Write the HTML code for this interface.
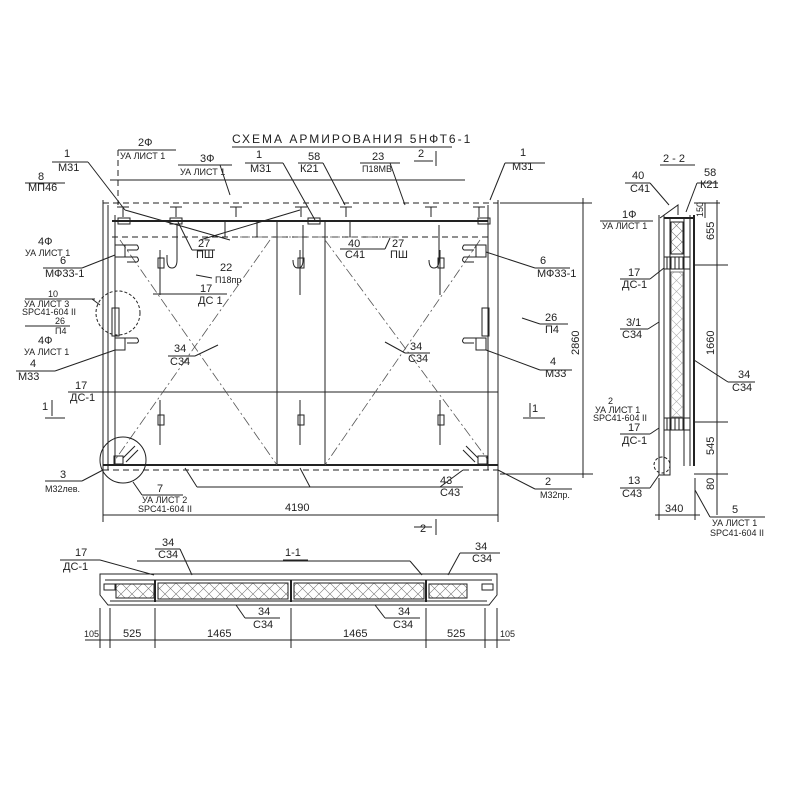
<!DOCTYPE html>
<html><head><meta charset="utf-8"><style>
html,body{margin:0;padding:0;background:#fff}
svg{display:block}
text{font-family:"Liberation Sans Narrow","Liberation Sans",sans-serif;font-size:11px;fill:#222}
.s{font-size:9px}
line,path,rect,polyline,circle{stroke:#222;fill:none;stroke-width:1}
.t{stroke-width:2}
.d{stroke-dasharray:10 3 2 3;stroke-width:0.8;stroke:#555}
.h{stroke-dasharray:6 4}
</style></head><body>
<svg width="800" height="800" viewBox="0 0 800 800" xmlns="http://www.w3.org/2000/svg">
<defs>
<pattern id="hx" width="11" height="11" patternUnits="userSpaceOnUse">
<path d="M0 11L11 0M0 0L11 11" style="stroke:#777;stroke-width:0.6"/>
</pattern>
</defs>

<text x="232" y="143" style="font-size:12px;letter-spacing:2px">СХЕМА АРМИРОВАНИЯ 5НФТ6-1</text>
<line x1="232" y1="147" x2="452" y2="147"/>

<line x1="103" y1="200" x2="103" y2="522"/>
<line x1="108" y1="205" x2="108" y2="470"/>
<line x1="115" y1="215" x2="115" y2="465"/>
<line x1="103" y1="203" x2="498" y2="203" class="h"/>
<line x1="112" y1="221" x2="488" y2="221" class="t"/>
<line x1="112" y1="237" x2="488" y2="237" class="h"/>
<line x1="498" y1="200" x2="498" y2="522"/>
<line x1="488" y1="205" x2="488" y2="470"/>
<line x1="103" y1="392" x2="498" y2="392"/>
<line x1="68" y1="392" x2="103" y2="392"/>
<line x1="103" y1="465" x2="498" y2="465" class="t"/>
<line x1="103" y1="470" x2="498" y2="470" class="h"/>
<line x1="197" y1="487" x2="440" y2="487"/>
<line x1="185" y1="468" x2="197" y2="487"/><line x1="300" y1="468" x2="310" y2="487"/>
<line x1="277" y1="221" x2="277" y2="465"/>
<line x1="325" y1="221" x2="325" y2="465"/>
<line x1="225" y1="237" x2="225" y2="221"/><line x1="257" y1="237" x2="257" y2="221"/><line x1="350" y1="237" x2="350" y2="221"/>
<line x1="120" y1="240" x2="277" y2="465" class="d"/>
<line x1="270" y1="240" x2="115" y2="460" class="d"/>
<line x1="325" y1="240" x2="488" y2="460" class="d"/>
<line x1="480" y1="240" x2="325" y2="465" class="d"/>
<line x1="240" y1="237" x2="400" y2="237" class="d"/>
<line x1="125" y1="210" x2="230" y2="240"/><line x1="200" y1="240" x2="300" y2="210"/>
<line x1="110" y1="180" x2="465" y2="180"/>
<g>
<path d="M117 207h12M123 207v10M170 207h12M176 207v10M230 207h12M236 207v10M295 207h12M301 207v10M340 207h12M346 207v10M425 207h12M431 207v10M473 207h12M479 207v10"/>
<rect x="118" y="218" width="12" height="6"/><rect x="170" y="218" width="12" height="6"/><rect x="308" y="218" width="12" height="6"/><rect x="478" y="218" width="12" height="6"/>
</g>
<path d="M177 225v35q0 8-5 8q-5 0-5-8v-5"/>
<path d="M303 225v35q0 8-5 8q-5 0-5-8"/>
<path d="M439 225v35q0 8-5 8q-5 0-5-8"/>
<rect x="115" y="245" width="10" height="12"/><path d="M125 245h12q3 3 0 5h-10M125 257h12q3 3 0 5h-10"/>
<rect x="476" y="245" width="10" height="12"/><path d="M476 245h-12q-3 3 0 5h10M476 257h-12q-3 3 0 5h10"/>
<rect x="115" y="338" width="10" height="12"/><path d="M125 338h12q3 3 0 5h-10"/>
<rect x="476" y="338" width="10" height="12"/><path d="M476 338h-12q-3 3 0 5h10"/>
<rect x="112" y="308" width="7" height="28"/><rect x="482" y="308" width="7" height="28"/>
<path d="M160 250v45M158 258h6v10h-6zM300 250v45M298 258h6v10h-6zM440 250v45M438 258h6v10h-6z"/>
<path d="M160 400v45M158 415h6v10h-6zM300 400v45M298 415h6v10h-6zM440 400v45M438 415h6v10h-6z"/>
<rect x="114" y="456" width="9" height="8"/><path d="M123 458l12-12M126 462l12-12"/>
<rect x="478" y="456" width="9" height="8"/><path d="M478 458l-12-12M475 462l-12-12"/>
<circle cx="118" cy="313" r="22" style="stroke-dasharray:3 2"/>
<circle cx="123" cy="460" r="23"/>

<text x="138" y="146">2Ф</text><line x1="118" y1="150" x2="176" y2="150"/><text x="120" y="159" class="s">УА ЛИСТ 1</text>
<line x1="118" y1="150" x2="118" y2="205" class="h"/>
<text x="64" y="157">1</text><text x="58" y="171">М31</text><line x1="52" y1="162" x2="88" y2="162"/><line x1="88" y1="162" x2="125" y2="210"/>
<text x="38" y="180">8</text><text x="28" y="191">МП46</text><line x1="25" y1="183" x2="65" y2="183"/>
<text x="200" y="162">3Ф</text><line x1="178" y1="165" x2="232" y2="165"/><text x="180" y="175" class="s">УА ЛИСТ 1</text><line x1="220" y1="165" x2="230" y2="195"/>
<text x="256" y="158">1</text><text x="250" y="172">М31</text><line x1="245" y1="163" x2="283" y2="163"/><line x1="283" y1="163" x2="315" y2="220"/>
<text x="308" y="160">58</text><text x="300" y="172">К21</text><line x1="298" y1="163" x2="323" y2="163"/><line x1="323" y1="163" x2="345" y2="205"/>
<text x="372" y="160">23</text><text x="362" y="172" class="s">П18МВ</text><line x1="360" y1="163" x2="400" y2="163"/><line x1="390" y1="163" x2="405" y2="205"/>
<text x="418" y="157">2</text><line x1="414" y1="161" x2="433" y2="161"/><line x1="436" y1="151" x2="436" y2="166"/>
<text x="520" y="156">1</text><text x="512" y="170">М31</text><line x1="505" y1="163" x2="545" y2="163"/><line x1="505" y1="163" x2="490" y2="200"/>

<text x="198" y="247">27</text><text x="196" y="258">ПШ</text><line x1="192" y1="250" x2="215" y2="250"/><line x1="192" y1="250" x2="178" y2="222"/>
<text x="220" y="271">22</text><text x="215" y="283" class="s">П18пр</text><line x1="196" y1="275" x2="212" y2="278"/>
<text x="200" y="292">17</text><text x="198" y="304">ДС 1</text><line x1="153" y1="294" x2="227" y2="294"/>
<text x="348" y="247">40</text><text x="345" y="258">С41</text><line x1="340" y1="249" x2="385" y2="249"/><line x1="385" y1="249" x2="390" y2="238"/>
<text x="392" y="247">27</text><text x="390" y="258">ПШ</text>

<text x="38" y="245">4Ф</text><text x="25" y="256" class="s">УА ЛИСТ 1</text>
<text x="60" y="264">6</text><text x="45" y="277">МФ33-1</text><line x1="43" y1="268" x2="82" y2="268"/><line x1="82" y1="268" x2="115" y2="255"/>
<text x="540" y="264">6</text><text x="537" y="277">МФ33-1</text><line x1="535" y1="268" x2="570" y2="268"/><line x1="535" y1="268" x2="486" y2="252"/>
<text x="48" y="297" class="s">10</text><line x1="25" y1="299" x2="95" y2="299"/><line x1="92" y1="299" x2="100" y2="305"/>
<text x="24" y="307" class="s">УА ЛИСТ 3</text><text x="22" y="315" class="s">SPC41-604 II</text>
<text x="55" y="324" class="s">26</text><line x1="25" y1="326" x2="70" y2="326"/><text x="55" y="334" class="s">П4</text>
<text x="38" y="344">4Ф</text><text x="24" y="355" class="s">УА ЛИСТ 1</text>
<text x="30" y="367">4</text><text x="18" y="380">М33</text><line x1="16" y1="371" x2="55" y2="371"/><line x1="55" y1="371" x2="115" y2="350"/>
<text x="75" y="389">17</text><text x="70" y="401">ДС-1</text>
<text x="42" y="410">1</text><line x1="52" y1="400" x2="52" y2="416"/><line x1="45" y1="418" x2="65" y2="418"/>
<text x="174" y="352">34</text><text x="170" y="365">С34</text><line x1="168" y1="356" x2="195" y2="356"/><line x1="195" y1="356" x2="218" y2="345"/>
<text x="410" y="350">34</text><text x="408" y="362">С34</text><line x1="405" y1="353" x2="430" y2="353"/><line x1="405" y1="353" x2="385" y2="342"/>
<text x="545" y="321">26</text><text x="545" y="333">П4</text><line x1="540" y1="324" x2="568" y2="324"/><line x1="540" y1="324" x2="522" y2="318"/>
<text x="550" y="365">4</text><text x="545" y="377">М33</text><line x1="540" y1="370" x2="572" y2="370"/><line x1="540" y1="370" x2="486" y2="350"/>
<text x="532" y="412">1</text><line x1="530" y1="403" x2="530" y2="417"/><line x1="523" y1="418" x2="545" y2="418"/>
<text x="60" y="478">3</text><text x="45" y="492" class="s">М32лев.</text><line x1="45" y1="481" x2="82" y2="481"/><line x1="82" y1="481" x2="103" y2="470"/>
<text x="157" y="492">7</text><text x="142" y="503" class="s">УА ЛИСТ 2</text><text x="138" y="512" class="s">SPC41-604 II</text><line x1="142" y1="495" x2="183" y2="495"/><line x1="142" y1="495" x2="133" y2="482"/>
<text x="440" y="484">43</text><text x="440" y="496">С43</text><line x1="430" y1="487" x2="463" y2="487"/><line x1="440" y1="487" x2="463" y2="470"/>
<text x="545" y="485">2</text><text x="540" y="498" class="s">М32пр.</text><line x1="535" y1="489" x2="572" y2="489"/><line x1="535" y1="489" x2="498" y2="470"/>
<line x1="103" y1="515" x2="498" y2="515"/><text x="285" y="511">4190</text>
<line x1="500" y1="203" x2="592" y2="203"/><line x1="500" y1="474" x2="593" y2="474"/><line x1="583" y1="198" x2="583" y2="478"/>
<text x="0" y="0" transform="translate(579,355) rotate(-90)">2860</text>
<text x="420" y="532">2</text><line x1="414" y1="527" x2="432" y2="527"/><line x1="436" y1="519" x2="436" y2="535"/>

<text x="663" y="162">2 - 2</text><line x1="660" y1="165" x2="695" y2="165"/>
<text x="632" y="179">40</text><text x="630" y="192">С41</text><line x1="625" y1="183" x2="650" y2="183"/><line x1="650" y1="183" x2="669" y2="205"/>
<text x="704" y="176">58</text><text x="700" y="188">К21</text><line x1="697" y1="183" x2="718" y2="183"/><line x1="697" y1="183" x2="686" y2="212"/>
<text x="622" y="218">1Ф</text><text x="602" y="229" class="s">УА ЛИСТ 1</text><line x1="600" y1="221" x2="653" y2="221"/>
<path d="M660 218l18-13v10"/>
<line x1="659" y1="215" x2="659" y2="475"/><line x1="664" y1="215" x2="664" y2="475"/>
<line x1="670" y1="218" x2="670" y2="466"/><line x1="684" y1="218" x2="684" y2="466"/>
<line x1="690" y1="215" x2="690" y2="466"/><line x1="694" y1="215" x2="694" y2="466" class="t"/>
<line x1="664" y1="218" x2="694" y2="218" class="t"/>
<rect x="671" y="222" width="12" height="32" style="fill:url(#hx)"/>
<rect x="671" y="272" width="12" height="145" style="fill:url(#hx);opacity:.6"/>
<rect x="664" y="257" width="26" height="12"/><path d="M667 257v12M671 257v12M675 257v12M679 257v12M683 257v12"/>
<rect x="664" y="418" width="26" height="12"/><path d="M667 418v12M671 418v12M675 418v12M679 418v12M683 418v12"/>
<path d="M659 475h11v-10"/>
<line x1="694" y1="203" x2="720" y2="203"/><line x1="694" y1="265" x2="728" y2="265"/>
<line x1="694" y1="422" x2="728" y2="422"/><line x1="694" y1="474" x2="728" y2="474"/>
<line x1="717" y1="200" x2="717" y2="515"/><line x1="705" y1="203" x2="705" y2="218"/>
<text class="s" transform="translate(703,217) rotate(-90)">150</text>
<text transform="translate(714,240) rotate(-90)">655</text>
<text transform="translate(714,355) rotate(-90)">1660</text>
<text transform="translate(714,455) rotate(-90)">545</text>
<text transform="translate(714,490) rotate(-90)">80</text>
<text x="628" y="276">17</text><text x="622" y="288">ДС-1</text><line x1="620" y1="279" x2="650" y2="279"/><line x1="650" y1="279" x2="664" y2="268"/>
<text x="626" y="326">3/1</text><text x="622" y="338">С34</text><line x1="620" y1="329" x2="648" y2="329"/><line x1="648" y1="329" x2="659" y2="322"/>
<text x="738" y="378">34</text><text x="732" y="391">С34</text><line x1="728" y1="382" x2="755" y2="382"/><line x1="728" y1="382" x2="694" y2="360"/>
<text x="608" y="404" class="s">2</text><text x="595" y="413" class="s">УА ЛИСТ 1</text><text x="593" y="421" class="s">SPC41-604 II</text>
<text x="628" y="431">17</text><text x="622" y="444">ДС-1</text><line x1="620" y1="434" x2="650" y2="434"/><line x1="650" y1="434" x2="659" y2="428"/>
<circle cx="662" cy="465" r="8" style="stroke-dasharray:3 2"/>
<text x="628" y="484">13</text><text x="622" y="497">С43</text><line x1="620" y1="488" x2="650" y2="488"/><line x1="650" y1="488" x2="659" y2="475"/>
<line x1="659" y1="478" x2="659" y2="520"/><line x1="695" y1="478" x2="695" y2="520"/>
<line x1="655" y1="515" x2="700" y2="515"/><text x="665" y="512">340</text>
<text x="732" y="513">5</text><line x1="710" y1="517" x2="765" y2="517"/><line x1="710" y1="517" x2="695" y2="490"/>
<text x="712" y="526" class="s">УА ЛИСТ 1</text><text x="710" y="536" class="s">SPC41-604 II</text>

<text x="285" y="556">1-1</text><line x1="283" y1="560" x2="308" y2="560"/>
<text x="162" y="546">34</text><text x="158" y="558">С34</text><line x1="155" y1="549" x2="180" y2="549"/><line x1="180" y1="549" x2="192" y2="575"/>
<text x="75" y="556">17</text><text x="63" y="570">ДС-1</text><line x1="60" y1="560" x2="100" y2="560"/><line x1="100" y1="560" x2="154" y2="575"/>
<line x1="137" y1="561" x2="410" y2="561"/><line x1="410" y1="561" x2="422" y2="575"/>
<text x="475" y="550">34</text><text x="472" y="562">С34</text><line x1="460" y1="553" x2="500" y2="553"/><line x1="460" y1="553" x2="448" y2="575"/>
<path d="M100 574h397v21l-8 10H108l-8-10z"/>
<line x1="105" y1="580" x2="492" y2="580"/>
<line x1="110" y1="601" x2="487" y2="601"/>
<rect x="116" y="584" width="38" height="14" style="fill:url(#hx)"/>
<rect x="158" y="583" width="130" height="16" style="fill:url(#hx)"/>
<rect x="294" y="583" width="130" height="16" style="fill:url(#hx)"/>
<rect x="429" y="584" width="38" height="14" style="fill:url(#hx)"/>
<rect x="104" y="584" width="11" height="6"/><rect x="482" y="584" width="11" height="6"/>
<line x1="155" y1="580" x2="155" y2="602" class="t"/><line x1="291" y1="580" x2="291" y2="602" class="t"/><line x1="426" y1="580" x2="426" y2="602" class="t"/>
<text x="258" y="615">34</text><text x="253" y="628">С34</text><line x1="245" y1="618" x2="280" y2="618"/><line x1="245" y1="618" x2="236" y2="605"/>
<text x="398" y="615">34</text><text x="393" y="628">С34</text><line x1="385" y1="618" x2="420" y2="618"/><line x1="385" y1="618" x2="375" y2="605"/>
<line x1="85" y1="640" x2="510" y2="640"/>
<path d="M100 608v40M110 608v40M155 608v40M291 608v40M426 608v40M485 608v40M497 608v40"/>
<text x="84" y="637" class="s">105</text><text x="123" y="637">525</text><text x="207" y="637">1465</text>
<text x="343" y="637">1465</text><text x="447" y="637">525</text><text x="500" y="637" class="s">105</text>
</svg>
</body></html>
